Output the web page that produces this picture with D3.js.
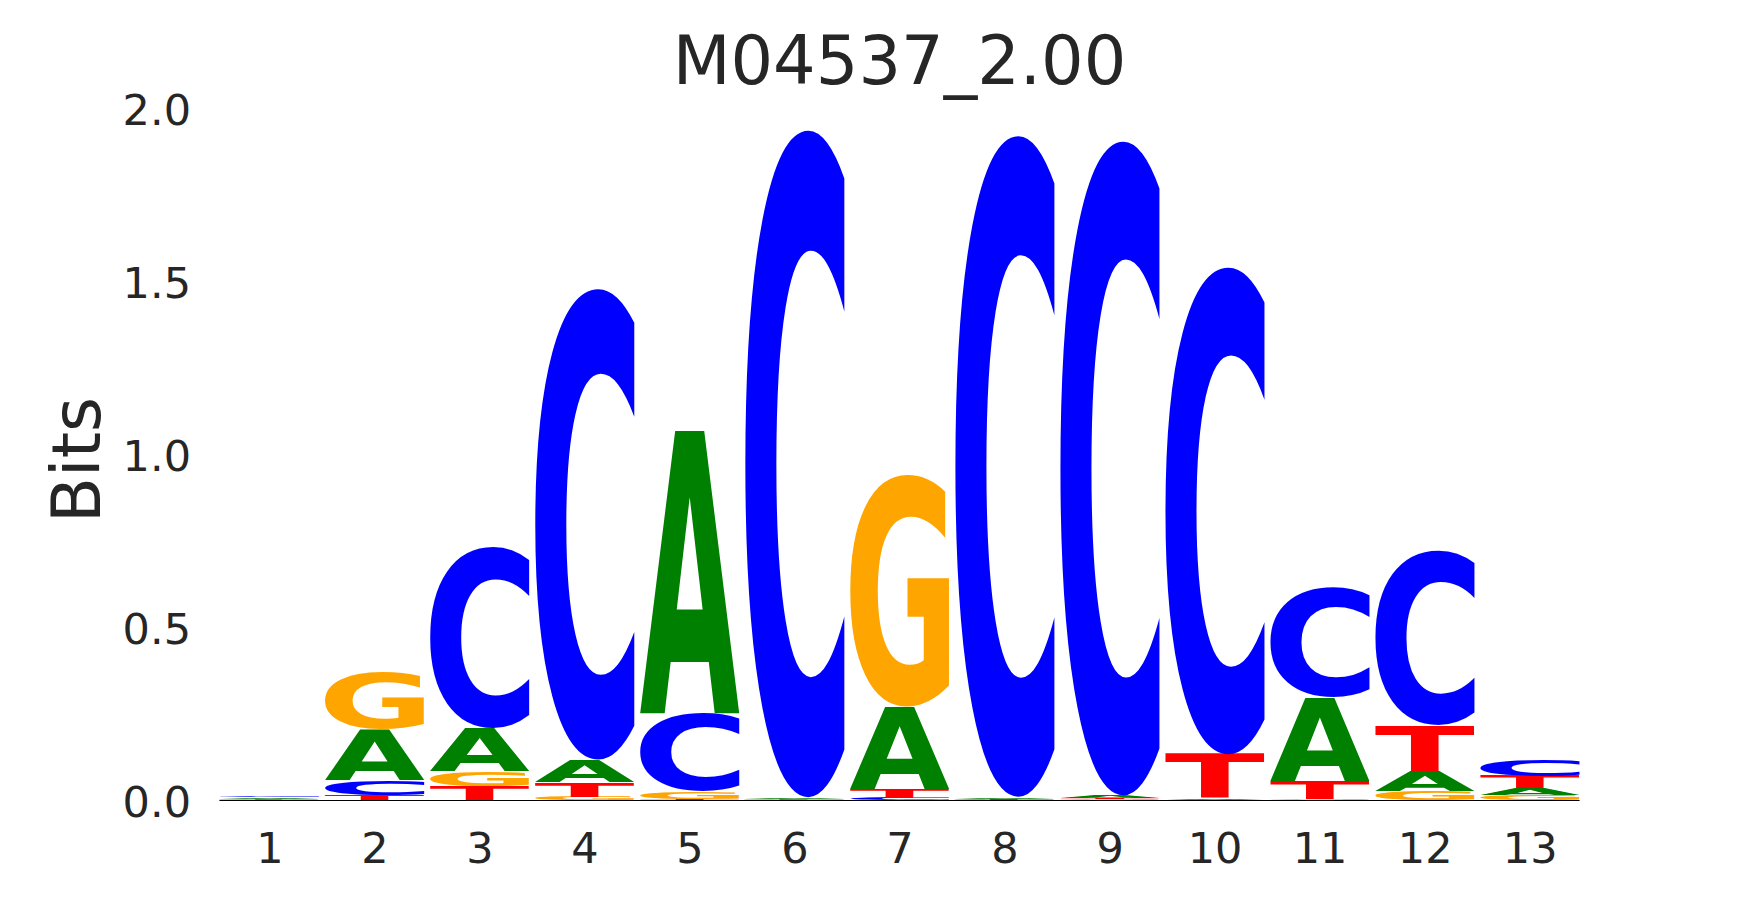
<!DOCTYPE html>
<html>
<head>
<meta charset="utf-8">
<script src="https://cdn.jsdelivr.net/npm/d3@7"></script>
<style>
  body { margin: 0; background: #fff; }
  svg { display: block; }
</style>
</head>
<body>
<svg id="chart" width="1755" height="900"></svg>
<script>
// motif data, bits per base at each position
const positions = [1, 2, 3, 4, 5, 6, 7, 8, 9, 10, 11, 12, 13];
const bases = ['A', 'C', 'G', 'T'];
const baseColors = ['#008000', '#0000ff', '#ffa500', '#ff0000'];
const bitsA = [0.004, 0.148, 0.123, 0.063, 0.817, 0.003, 0.238, 0.005, 0.006, 0.004, 0.242, 0.055, 0.019];
const bitsC = [0.005, 0.043, 0.526, 1.366, 0.227, 1.9355, 0.008, 1.918, 1.898, 1.413, 0.318, 0.506, 0.048];
const bitsG = [0.003, 0.164, 0.044, 0.011, 0.020, 0.0025, 0.672, 0.002, 0.003, 0.001, 0.005, 0.027, 0.016];
const bitsT = [0.0025, 0.016, 0.042, 0.043, 0.005, 0.002, 0.025, 0.002, 0.004, 0.127, 0.051, 0.134, 0.036];
const yTicks = [0, 0.5, 1.0, 1.5, 2.0];
const title = 'M04537_2.00';
const yLabel = 'Bits';

const svg = d3.select('#chart');
const textColor = '#262626';
const fontFamily = '"DejaVu Sans", sans-serif';
const glyphWidth = 0.95;

const x = d3.scaleLinear().domain([0.5, 13.5]).range([216.8, 1582.2]);
const y = d3.scaleLinear().domain([0, 2]).range([800.5, 108.5]);

// measure the ink box of each letter so it can be stretched to fill its cell
const ctx = document.createElement('canvas').getContext('2d');
const glyphSize = 200;
ctx.font = `bold ${glyphSize}px "DejaVu Sans"`;
const ink = {};
bases.forEach(b => {
    const m = ctx.measureText(b);
    ink[b] = {
        l: m.actualBoundingBoxLeft,
        r: m.actualBoundingBoxRight,
        a: m.actualBoundingBoxAscent,
        d: m.actualBoundingBoxDescent
    };
});

// build stacks: smallest at the bottom
const columns = [bitsA, bitsC, bitsG, bitsT];
const glyphs = [];
positions.forEach((p, i) => {
    const letters = bases.map((b, k) => ({ base: b, color: baseColors[k], value: columns[k][i] }))
        .sort((u, v) => u.value - v.value);
    let floor = 0;
    letters.forEach(l => {
        glyphs.push({ pos: p, base: l.base, color: l.color, y0: floor, y1: floor + l.value });
        floor += l.value;
    });
});

svg.append('g')
    .selectAll('text')
    .data(glyphs.filter(g => g.y1 > g.y0))
    .join('text')
    .attr('font-family', '"DejaVu Sans"')
    .attr('font-weight', 'bold')
    .attr('font-size', glyphSize)
    .attr('fill', d => d.color)
    .attr('transform', d => {
        const m = ink[d.base];
        const x0 = x(d.pos - glyphWidth / 2), x1 = x(d.pos + glyphWidth / 2);
        const top = y(d.y1), bottom = y(d.y0);
        const sx = (x1 - x0) / (m.l + m.r);
        const sy = (bottom - top) / (m.a + m.d);
        return `translate(${x0 + m.l * sx},${top + m.a * sy}) scale(${sx},${sy})`;
    })
    .text(d => d.base);

// baseline
svg.append('line')
    .attr('x1', x(1 - glyphWidth / 2)).attr('x2', x(13 + glyphWidth / 2))
    .attr('y1', y(0)).attr('y2', y(0))
    .attr('stroke', '#000').attr('stroke-width', 1.2);

// axes without spines or tick marks
const yAxis = svg.append('g')
    .attr('transform', 'translate(191,0)')
    .call(d3.axisLeft(y).tickValues(yTicks).tickFormat(d3.format('.1f')).tickSize(0).tickPadding(0));
yAxis.select('.domain').remove();
yAxis.selectAll('text')
    .attr('dy', '0.365em')
    .attr('fill', textColor)
    .style('font-family', fontFamily)
    .style('font-size', '43px');

const xAxis = svg.append('g')
    .attr('transform', 'translate(0,862.7)')
    .call(d3.axisBottom(x).tickValues(positions).tickFormat(d3.format('d')).tickSize(0).tickPadding(0));
xAxis.select('.domain').remove();
xAxis.selectAll('text')
    .attr('dy', 0)
    .attr('y', 0)
    .attr('fill', textColor)
    .style('font-family', fontFamily)
    .style('font-size', '43px');

svg.append('text')
    .attr('x', 899.5).attr('y', 83.5)
    .attr('text-anchor', 'middle')
    .attr('fill', textColor)
    .style('font-family', fontFamily)
    .style('font-size', '67px')
    .text(title);

svg.append('text')
    .attr('transform', 'translate(100,460) rotate(-90)')
    .attr('text-anchor', 'middle')
    .attr('fill', textColor)
    .style('font-family', fontFamily)
    .style('font-size', '67px')
    .text(yLabel);
</script>
</body>
</html>
